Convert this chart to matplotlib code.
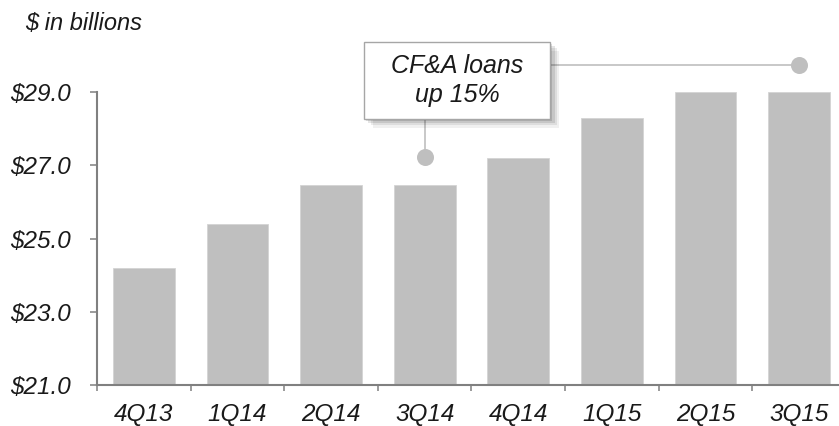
import matplotlib
matplotlib.use('Agg')
import matplotlib.pyplot as plt
from matplotlib.patches import Rectangle
import numpy as np

quarters = ['4Q13', '1Q14', '2Q14', '3Q14', '4Q14', '1Q15', '2Q15', '3Q15']
loans = [24.2, 25.4, 26.45, 26.45, 27.2, 28.3, 29.0, 29.0]
y_ticks = [21.0, 23.0, 25.0, 27.0, 29.0]

bar_color = '#bfbfbf'
axis_color = '#808080'
text_color = '#1a1a1a'

plt.rcParams['font.family'] = ['Liberation Sans', 'DejaVu Sans']
plt.rcParams['font.style'] = 'italic'

fig = plt.figure(figsize=(8.39, 4.26), dpi=100)
ax = fig.add_axes([97 / 839, 41 / 426, 749 / 839, 293 / 426])

x = np.arange(len(quarters))
ax.bar(x, loans, width=0.66, color=bar_color, edgecolor='#d4d4d4', linewidth=0.6, zorder=2)

ax.set_xlim(-0.5, len(quarters) - 0.5)
ax.set_ylim(21, 29)

for side in ['top', 'right']:
    ax.spines[side].set_visible(False)
for side in ['left', 'bottom']:
    ax.spines[side].set_color(axis_color)
    ax.spines[side].set_linewidth(1.5)

ax.set_yticks(y_ticks)
ax.set_yticklabels([f'${v:.1f}' for v in y_ticks], fontsize=17.5, color=text_color)
ax.tick_params(axis='y', length=5, width=1.1, color=axis_color, pad=14)

ax.set_xticks(x)
ax.set_xticklabels(quarters, fontsize=17.5, color=text_color)
ax.tick_params(axis='x', which='major', length=0, pad=13)
ax.set_xticks(np.arange(len(quarters) + 1) - 0.5, minor=True)
ax.tick_params(axis='x', which='minor', length=4.5, width=1.1, color=axis_color)

fig.text(25 / 839, 1 - 23 / 426, '$ in billions', fontsize=17, color=text_color,
         va='center', ha='left')

# callout box with drop shadow
box_x0, box_x1 = 2.35, 4.34
box_y0, box_y1 = 28.27, 30.37
for i, a in enumerate([0.06, 0.08, 0.1, 0.12]):
    off = 0.012 * (4 - i)
    shadow = Rectangle((box_x0 + off * 2, box_y0 - off * 5), box_x1 - box_x0, box_y1 - box_y0,
                       facecolor='black', edgecolor='none', alpha=a, clip_on=False, zorder=4)
    ax.add_patch(shadow)
box = Rectangle((box_x0, box_y0), box_x1 - box_x0, box_y1 - box_y0,
                facecolor='white', edgecolor='#a6a6a6', linewidth=1.0, clip_on=False, zorder=5)
ax.add_patch(box)
ax.text((box_x0 + box_x1) / 2, (box_y0 + box_y1) / 2, 'CF&A loans\nup 15%', ha='center', va='center',
        fontsize=18, color=text_color, linespacing=1.25, zorder=6)

# connectors to 3Q14 and 3Q15
ax.plot([3, 3], [box_y0, 27.23], color=bar_color, linewidth=1.2, clip_on=False, zorder=3)
ax.plot([box_x1, 7], [29.74, 29.74], color=bar_color, linewidth=1.2, clip_on=False, zorder=3)
ax.scatter([3, 7], [27.23, 29.74], s=150, color=bar_color, clip_on=False, zorder=4, linewidths=0)

fig.savefig('out.png', dpi=100)
